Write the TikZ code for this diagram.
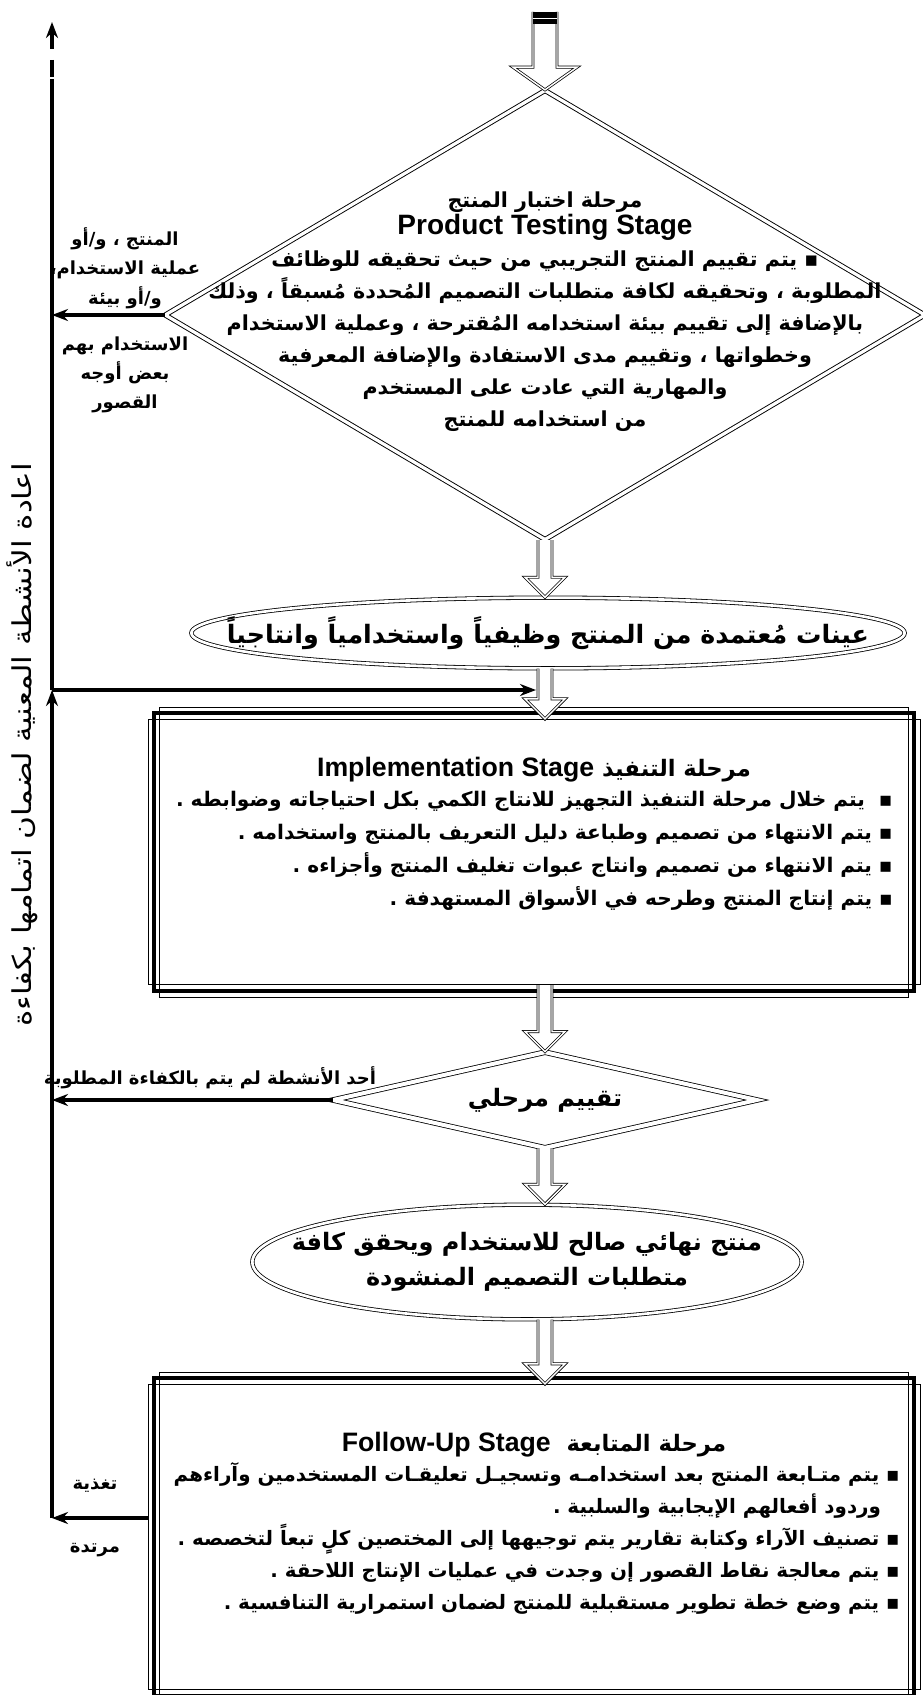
\documentclass[tikz,border=0pt]{standalone}
\usepackage{fontspec}
\usetikzlibrary{arrows.meta,shapes.geometric,calc}
\setmainfont{Liberation Sans}
\newfontfamily\arabicfont[Script=Arabic]{DejaVu Sans}
\newfontfamily\arabicwide[Script=Arabic,FakeStretch=1.2]{DejaVu Sans}
\newfontfamily\latinfont{Liberation Sans}
\TeXXeTstate=1

\newcommand{\lat}[1]{{\latinfont\fontsize{20}{23}\selectfont\beginL #1\endL}}
% hollow block arrow: start, end, shaft half, head half, head length
\newcommand{\hollowarrow}[5]{%
  \draw [hollow] let \p1=(#1), \p2=(#2) in
    (\x1-#3,\y1) -- (\x1-#3,\y2-#5) -- (\x1-#4,\y2-#5) -- (\x1,\y2)
    -- (\x1+#4,\y2-#5) -- (\x1+#3,\y2-#5) -- (\x1+#3,\y1) ;}

\tikzset{
  hollow/.style={double, double distance=1.1pt, line width=0.55pt, fill=white},
  flowline/.style={line width=2.4pt},
  flowarrow/.style={line width=2.4pt, -{Stealth[length=12pt,width=9pt]}},
  stagebox/.style={draw, line width=0.6pt, minimum width=579pt, inner sep=0pt},
  diamondtext/.style={align=center, inner sep=0pt, font=\arabicfont\bfseries\fontsize{15.5}{24}\selectfont},
  boxtext/.style={align=right, inner sep=0pt, font=\arabicfont\bfseries\fontsize{15.1}{24.75}\selectfont},
  titletext/.style={align=center, inner sep=0pt, font=\arabicfont\bfseries\fontsize{17}{23}\selectfont},
  sidetext/.style={align=center, inner sep=0pt, font=\arabicfont\bfseries\fontsize{13.5}{22}\selectfont}
}

\begin{document}
\begin{tikzpicture}[x=0.75pt,y=0.75pt,yscale=-1]
\useasboundingbox (0,0) rectangle (923,1695);

%Shape: Diamond [id:test]
\node [diamond, draw, double, double distance=2.4pt, line width=0.7pt, inner sep=0pt, minimum width=570pt, minimum height=337pt] (test) at (545,315) {};
%Shape: Ellipse [id:samples]
\node [ellipse, draw, double, double distance=2pt, line width=0.6pt, inner sep=0pt, minimum width=535pt, minimum height=53pt] (samples) at (548,633) {};
%Shape: Rectangle [id:impl]
\node [stagebox, minimum height=199pt] (impl) at (534,852) {};
%Shape: Diamond [id:evalst]
\node [diamond, draw, double, double distance=3pt, line width=0.6pt, inner sep=0pt, minimum width=318pt, minimum height=72pt] (evalst) at (545,1100) {};
%Shape: Ellipse [id:final]
\node [ellipse, draw, double, double distance=2pt, line width=0.6pt, inner sep=0pt, minimum width=412pt, minimum height=86pt] (final) at (527,1262) {};
%Shape: Rectangle [id:follow]
\node [stagebox, minimum height=229pt] (follow) at (534,1537) {};

%Box frames
\draw [line width=3pt] ([shift={(4.5pt,-4.5pt)}]impl.north west) rectangle ([shift={(-4.5pt,4.5pt)}]impl.south east) ;
\draw [line width=0.6pt] ([shift={(9pt,-9pt)}]impl.north west) rectangle ([shift={(-9pt,9pt)}]impl.south east) ;
\draw [line width=3pt] ([shift={(4.5pt,-4.5pt)}]follow.north west) rectangle ([shift={(-4.5pt,4.5pt)}]follow.south east) ;
\draw [line width=0.6pt] ([shift={(9pt,-9pt)}]follow.north west) rectangle ([shift={(-9pt,9pt)}]follow.south east) ;

%Coordinates of the return line
\coordinate (start) at (545,12);
\coordinate (lineTop) at (52,22);
\coordinate (lineDash) at (52,79);
\coordinate (lineJoin) at (52,690);
\coordinate (joinEnd) at (536,690);
\coordinate (fb) at (148,1518);

%Block arrows
\hollowarrow{start}{test.north}{9pt}{24pt}{17pt}
\fill (533,12) rectangle (557,24) ;
\draw [white, line width=0.6pt] (533,18) -- (557,18) ;
\hollowarrow{test.south}{samples.north -| test.south}{5.25pt}{15pt}{15pt}
\hollowarrow{test.south |- samples.south}{impl.north}{5.25pt}{15pt}{15pt}
\hollowarrow{test.south |- impl.south}{evalst.north}{5.25pt}{15pt}{15pt}
\hollowarrow{evalst.south}{final.north}{5.25pt}{15pt}{15pt}
\hollowarrow{test.south |- final.south}{follow.north}{5.25pt}{15pt}{15pt}

%Return line
\draw [flowarrow] (test.west) -- (test.west -| lineTop) ;
\draw [flowarrow] (evalst.west) -- (evalst.west -| lineTop) ;
\draw [flowarrow] (fb) -- (fb -| lineTop) ;
\draw [flowarrow] (fb -| lineTop) -- (lineJoin) ;
\draw [flowarrow] (lineJoin) -- (joinEnd) ;
\draw [flowline] (lineJoin) -- (lineDash) ;
\draw [flowline] ($(lineTop)+(0,38)$) -- ($(lineTop)+(0,55)$) ;
\draw [flowarrow] ($(lineTop)+(0,27)$) -- (lineTop) ;

% Text Node
\node [diamondtext] (testtxt) at (545,312) {\beginR مرحلة اختبار المنتج\endR\\[-4pt]
{\latinfont\fontsize{21}{23}\selectfont Product Testing Stage}\\
\beginR ▪ يتم تقييم المنتج التجريبي من حيث تحقيقه للوظائف\endR\\
\beginR المطلوبة ، وتحقيقه لكافة متطلبات التصميم المُحددة مُسبقاً ، وذلك\endR\\
\beginR بالإضافة إلى تقييم بيئة استخدامه المُقترحة ، وعملية الاستخدام\endR\\
\beginR وخطواتها ، وتقييم مدى الاستفادة والإضافة المعرفية\endR\\
\beginR والمهارية التي عادت على المستخدم\endR\\
\beginR من استخدامه للمنتج\endR};
% Text Node
\node [sidetext] (testfailA) at (125,268) {\beginR المنتج ، و/أو\endR\\ \beginR عملية الاستخدام،\endR\\ \beginR و/أو بيئة\endR};
% Text Node
\node [sidetext] (testfailB) at (125,375) {\beginR الاستخدام بهم\endR\\ \beginR بعض أوجه\endR\\ \beginR القصور\endR};
% Text Node
\node [titletext, font=\arabicfont\bfseries\fontsize{19}{23}\selectfont] (samplestxt) at (548,633) {\beginR عينات مُعتمدة من المنتج وظيفياً واستخدامياً وانتاجياً\endR};
% Text Node
\node [titletext] (impltitle) at (534,770) {\beginR مرحلة التنفيذ \lat{Implementation Stage}\endR};
% Text Node
\node [boxtext, anchor=north east] (impltxt) at (893,791) {\beginR ▪\ \ يتم خلال مرحلة التنفيذ التجهيز للانتاج الكمي بكل احتياجاته وضوابطه .\endR\\
\beginR ▪ يتم الانتهاء من تصميم وطباعة دليل التعريف بالمنتج واستخدامه .\endR\\
\beginR ▪ يتم الانتهاء من تصميم وانتاج عبوات تغليف المنتج وأجزاءه .\endR\\
\beginR ▪ يتم إنتاج المنتج وطرحه في الأسواق المستهدفة .\endR};
% Text Node
\node [titletext, font=\arabicfont\bfseries\fontsize{18}{23}\selectfont] (evaltxt) at (545,1100) {\beginR تقييم مرحلي\endR};
% Text Node
\node [sidetext] (evalfail) at (210,1078) {\beginR أحد الأنشطة لم يتم بالكفاءة المطلوبة\endR};
% Text Node
\node [titletext, font=\arabicfont\bfseries\fontsize{18}{26}\selectfont] (finaltxt) at (527,1262) {\beginR منتج نهائي صالح للاستخدام ويحقق كافة\endR\\ \beginR متطلبات التصميم المنشودة\endR};
% Text Node
\node [titletext] (followtitle) at (534,1445) {\beginR مرحلة المتابعة\ \ \lat{Follow-Up Stage}\endR};
% Text Node
\node [boxtext, anchor=north east, font=\arabicfont\bfseries\fontsize{14.9}{24}\selectfont] (followtxt) at (900,1462) {\beginR ▪ يتم متـابعة المنتج بعد استخدامـه وتسجيـل تعليقـات المستخدمين وآراءهم\endR\\
\beginR\hspace*{14pt}وردود أفعالهم الإيجابية والسلبية .\endR\\
\beginR ▪ تصنيف الآراء وكتابة تقارير يتم توجيهها إلى المختصين كلٍ تبعاً لتخصصه .\endR\\
\beginR ▪ يتم معالجة نقاط القصور إن وجدت في عمليات الإنتاج اللاحقة .\endR\\
\beginR ▪ يتم وضع خطة تطوير مستقبلية للمنتج لضمان استمرارية التنافسية .\endR};
% Text Node
\node [sidetext] (fbtop) at (95,1486) {\beginR تغذية\endR};
% Text Node
\node [sidetext] (fbbottom) at (95,1550) {\beginR مرتدة\endR};
% Text Node
\node [sidetext, font=\arabicwide\fontsize{19.5}{22}\selectfont, rotate=90] (redo) at (22,745) {\beginR اعادة الأنشطة المعنية لضمان اتمامها بكفاءة\endR};

\end{tikzpicture}
\end{document}
